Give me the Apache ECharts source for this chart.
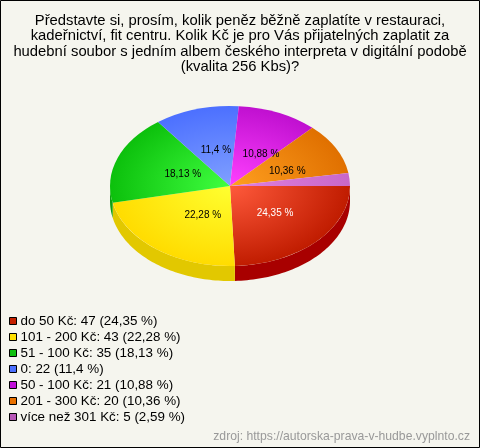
<!DOCTYPE html>
<html><head><meta charset="utf-8">
<style>html,body{margin:0;padding:0;background:#f5f5ee}#c{width:480px;height:448px}</style>
<script src="https://cdn.jsdelivr.net/npm/echarts@6/dist/echarts.min.js"></script>
</head><body><div id="c"></div>
<script>
const categories = ["do 50 Kč","101 - 200 Kč","51 - 100 Kč","0","50 - 100 Kč","201 - 300 Kč","více než 301 Kč"];
const values = [47,43,35,22,21,20,5];
const percentLabels = ["24,35","22,28","18,13","11,4","10,88","10,36","2,59"];
const titleLines = ["Představte si, prosím, kolik peněz běžně zaplatíte v restauraci,","kadeřnictví, fit centru. Kolik Kč je pro Vás přijatelných zaplatit za","hudební soubor s jedním albem českého interpreta v digitální podobě","(kvalita 256 Kbs)?"];
const sourceText = "zdroj: https://autorska-prava-v-hudbe.vyplnto.cz";

const legendColors = ["#c42000","#ffe000","#10c010","#4c70ff","#c010d8","#e87000","#b858b8"];
const centerColors = ["#ff5a3c","#ffff30","#40ff40","#80a0ff","#ff40ff","#ffa020","#e080e0"];
const edgeColors   = ["#c01c00","#ffdc00","#0cc00c","#4c70ff","#c010d0","#e07000","#c868c8"];
const wallColors   = ["#a80000","#e2c800","#0fa00f","#3050c0","#9000a0","#b05000","#904890"];
const labelColors  = ["#ffffff","#000000","#000000","#000000","#000000","#000000",null];
const labelRadiusX = [0.52,0.37,0.42,0.42,0.64,0.54,0];
const labelRadiusY = [0.50,0.47,0.43,0.46,0.44,0.40,0];

const CX=230, CY=186, RX=120, RY=80, DEPTH=15;
const total = values.reduce((a,b)=>a+b,0);
let running = 0;
const starts = values.map(v=>{const s=running; running+=v; return s;});

function renderSlice(params, api){
  const i = params.seriesIndex;
  const a0 = api.value(1)/total*Math.PI*2;
  const a1 = (api.value(1)+api.value(0))/total*Math.PI*2;
  const children = [];
  const w0 = a0, w1 = Math.min(a1, Math.PI);
  if (w0 < w1){
    const top=[], bottom=[];
    const n = 60;
    for(let k=0;k<=n;k++){
      const a = w0+(w1-w0)*k/n;
      const x = CX+RX*Math.cos(a), y = CY+RY*Math.sin(a);
      top.push([x,y]); bottom.unshift([x,y+DEPTH]);
    }
    children.push({type:'polygon',shape:{points:top.concat(bottom)},style:{fill:wallColors[i]}});
  }
  children.push({type:'sector',x:CX,y:CY,scaleY:RY/RX,
    shape:{cx:0,cy:0,r:RX,r0:0,startAngle:a0,endAngle:a1,clockwise:true},
    style:{fill:{type:'radial',x:0,y:0,r:RX,global:true,colorStops:[{offset:0,color:centerColors[i]},{offset:1,color:edgeColors[i]}]}}});
  if (labelColors[i]){
    const m=(a0+a1)/2;
    children.push({type:'text',z2:50,
      x:CX+RX*labelRadiusX[i]*Math.cos(m), y:CY+RY*labelRadiusY[i]*Math.sin(m),
      style:{text:percentLabels[i]+" %",fill:labelColors[i],align:'center',verticalAlign:'middle',font:'10px "Liberation Sans",Arial,sans-serif'}});
  }
  return {type:'group',children};
}

const names = categories.map((c,i)=>c+": "+values[i]+" ("+percentLabels[i]+" %)");
const chart = echarts.init(document.getElementById('c'),null,{renderer:'canvas'});
chart.setOption({
  animation:false,
  backgroundColor:'#f5f5ee',
  title:[
    {text:titleLines.join("\n"),left:240,top:13,padding:0,textAlign:'center',
     textStyle:{fontFamily:'Liberation Sans',fontSize:14.8,fontWeight:'normal',color:'#000',lineHeight:15.4}},
    {text:sourceText,right:10,top:431,padding:0,
     textStyle:{fontFamily:'Liberation Sans',fontSize:12.2,fontWeight:'normal',color:'#999'}}
  ],
  legend:{orient:'vertical',left:9,top:314,padding:0,itemWidth:7,itemHeight:7,itemGap:2,
    icon:'rect',
    selectedMode:false,
    data:names,
    itemStyle:{borderColor:'#000',borderWidth:1},
    textStyle:{fontFamily:'Liberation Sans',fontSize:13.4,color:'#000',padding:[0,0,0,-1],lineHeight:14}},
  graphic:[{type:'rect',shape:{x:0.5,y:0.5,width:479,height:447},style:{fill:'none',stroke:'#000',lineWidth:1},z:100,silent:true}],
  series:names.map((n,i)=>({
    type:'custom',name:n,coordinateSystem:'none',
    itemStyle:{color:legendColors[i]},
    renderItem:renderSlice,
    data:[[values[i],starts[i]]]
  }))
});
</script></body></html>
